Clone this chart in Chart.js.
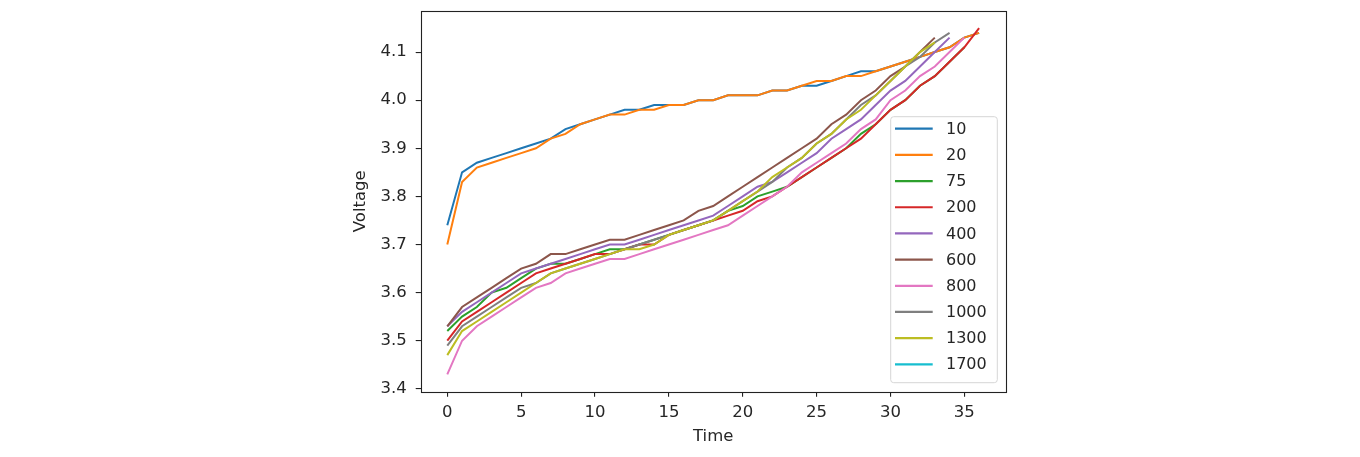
<!DOCTYPE html>
<html>
<head>
<meta charset="utf-8">
<script src="https://cdn.jsdelivr.net/npm/chart.js@4.4.0/dist/chart.umd.min.js"></script>
<style>
  html, body { margin: 0; padding: 0; background: #fff; }
  #wrap { width: 1360px; height: 457px; }
</style>
</head>
<body>
<div id="wrap"><canvas id="c" width="1360" height="457"></canvas></div>
<script>
// ---- data ----
const seriesNames = ["10", "20", "75", "200", "400", "600", "800", "1000", "1300", "1700"];
const seriesColors = ["#1f77b4", "#ff7f0e", "#2ca02c", "#d62728", "#9467bd", "#8c564b", "#e377c2", "#7f7f7f", "#bcbd22", "#17becf"];

const v10 = [3.74,3.85,3.87,3.88,3.89,3.90,3.91,3.92,3.94,3.95,3.96,3.97,3.98,3.98,3.99,3.99,3.99,4.00,4.00,4.01,4.01,4.01,4.02,4.02,4.03,4.03,4.04,4.05,4.06,4.06,4.07,4.08,4.09,4.10,4.11,4.13,4.14];
const v20 = [3.70,3.83,3.86,3.87,3.88,3.89,3.90,3.92,3.93,3.95,3.96,3.97,3.97,3.98,3.98,3.99,3.99,4.00,4.00,4.01,4.01,4.01,4.02,4.02,4.03,4.04,4.04,4.05,4.05,4.06,4.07,4.08,4.09,4.10,4.11,4.13,4.14];
const v75 = [3.52,3.55,3.57,3.60,3.61,3.63,3.65,3.66,3.66,3.67,3.68,3.69,3.69,3.70,3.71,3.72,3.73,3.74,3.75,3.77,3.78,3.80,3.81,3.82,3.84,3.86,3.88,3.90,3.93,3.95,3.98,4.00,4.03,4.05,4.08,4.11];
const v200 = [3.50,3.54,3.56,3.58,3.60,3.62,3.64,3.65,3.66,3.67,3.68,3.68,3.69,3.70,3.70,3.72,3.73,3.74,3.75,3.76,3.77,3.79,3.80,3.82,3.84,3.86,3.88,3.90,3.92,3.95,3.98,4.00,4.03,4.05,4.08,4.11,4.15];
const v400 = [3.53,3.56,3.58,3.60,3.62,3.64,3.65,3.66,3.67,3.68,3.69,3.70,3.70,3.71,3.72,3.73,3.74,3.75,3.76,3.78,3.80,3.82,3.83,3.85,3.87,3.89,3.92,3.94,3.96,3.99,4.02,4.04,4.07,4.10,4.13];
const v600 = [3.53,3.57,3.59,3.61,3.63,3.65,3.66,3.68,3.68,3.69,3.70,3.71,3.71,3.72,3.73,3.74,3.75,3.77,3.78,3.80,3.82,3.84,3.86,3.88,3.90,3.92,3.95,3.97,4.00,4.02,4.05,4.07,4.10,4.13];
const v800 = [3.43,3.50,3.53,3.55,3.57,3.59,3.61,3.62,3.64,3.65,3.66,3.67,3.67,3.68,3.69,3.70,3.71,3.72,3.73,3.74,3.76,3.78,3.80,3.82,3.85,3.87,3.89,3.91,3.94,3.96,4.00,4.02,4.05,4.07,4.10,4.13];
const v1000 = [3.49,3.53,3.55,3.57,3.59,3.61,3.62,3.64,3.65,3.66,3.67,3.68,3.69,3.70,3.71,3.72,3.73,3.74,3.75,3.77,3.79,3.81,3.83,3.86,3.88,3.91,3.93,3.96,3.99,4.01,4.04,4.07,4.09,4.12,4.14];
const v1300 = [3.47,3.52,3.54,3.56,3.58,3.60,3.62,3.64,3.65,3.66,3.67,3.68,3.69,3.69,3.70,3.72,3.73,3.74,3.75,3.77,3.79,3.81,3.84,3.86,3.88,3.91,3.93,3.96,3.98,4.01,4.04,4.07,4.10,4.12];
const v1700 = [];

const xTicks = [0, 5, 10, 15, 20, 25, 30, 35];
const yTicks = [3.4, 3.5, 3.6, 3.7, 3.8, 3.9, 4.0, 4.1];
const xTitle = "Time";
const yTitle = "Voltage";

const allSeries = [v10, v20, v75, v200, v400, v600, v800, v1000, v1300, v1700];

// ---- chart ----
const FONT = "'DejaVu Sans', sans-serif";
const TXT = "#262626";
const N = allSeries.length;

const datasets = allSeries.map((vals, i) => ({
  label: seriesNames[i],
  data: vals.map((v, t) => ({ x: t, y: v })),
  borderColor: seriesColors[i],
  backgroundColor: seriesColors[i],
  borderWidth: 2,
  pointRadius: 0,
  pointHoverRadius: 0,
  tension: 0,
  fill: false,
  order: N - i
}));

const frameLegend = {
  id: 'frameLegend',
  afterDatasetsDraw(chart) {
    const { ctx, chartArea: a } = chart;
    ctx.save();
    ctx.strokeStyle = "#222";
    ctx.lineWidth = 1.1;
    ctx.strokeRect(Math.round(a.left) + 0.5, Math.round(a.top) + 0.5,
                   Math.round(a.right - a.left), Math.round(a.bottom - a.top));
    // legend
    const bx = 890.7, by = 116.7, bw = 106.6, bh = 266;
    ctx.beginPath();
    if (ctx.roundRect) ctx.roundRect(bx, by, bw, bh, 3); else ctx.rect(bx, by, bw, bh);
    ctx.fillStyle = "rgba(255,255,255,0.8)";
    ctx.fill();
    ctx.strokeStyle = "#d6d6d6";
    ctx.lineWidth = 1;
    ctx.stroke();
    ctx.font = "16px " + FONT;
    ctx.textBaseline = "middle";
    ctx.textAlign = "left";
    seriesNames.forEach((name, i) => {
      const y = 128.7 + i * 26.18;
      ctx.strokeStyle = seriesColors[i];
      ctx.lineWidth = 2.2;
      ctx.beginPath();
      ctx.moveTo(895, y);
      ctx.lineTo(932.7, y);
      ctx.stroke();
      ctx.fillStyle = TXT;
      ctx.fillText(name, 946, y + 1);
    });
    ctx.restore();
  }
};

new Chart(document.getElementById('c'), {
  type: 'line',
  data: { datasets },
  plugins: [frameLegend],
  options: {
    responsive: false,
    animation: false,
    events: [],
    layout: { padding: { left: 340, right: 354.3, top: 10.7, bottom: 0 } },
    plugins: { legend: { display: false }, tooltip: { enabled: false } },
    scales: {
      x: {
        type: 'linear',
        min: -1.8,
        max: 37.8,
        afterBuildTicks(s) { s.ticks = xTicks.map(v => ({ value: v })); },
        afterFit(s) { s.height = 65.3; s.paddingLeft = 0; s.paddingRight = 0; s.paddingTop = 0; s.paddingBottom = 0; },
        border: { display: false },
        grid: { drawOnChartArea: false, drawTicks: true, tickLength: 5, color: "#222", lineWidth: 1.1 },
        ticks: { font: { family: FONT, size: 16.5 }, color: TXT, padding: 6, maxRotation: 0, autoSkip: false },
        title: { display: true, text: xTitle, font: { family: FONT, size: 16.5 }, color: TXT, padding: { top: 0, bottom: 10.4 } }
      },
      y: {
        type: 'linear',
        min: 3.394,
        max: 4.186,
        afterBuildTicks(s) { s.ticks = yTicks.map(v => ({ value: v })); },
        afterFit(s) { s.width = 80.7; s.paddingTop = 0; s.paddingBottom = 0; s.paddingLeft = 0; s.paddingRight = 0; },
        border: { display: false },
        grid: { drawOnChartArea: false, drawTicks: true, tickLength: 5, color: "#222", lineWidth: 1.1 },
        ticks: { font: { family: FONT, size: 16.5 }, color: TXT, padding: 9, autoSkip: false,
                 callback: v => Number(v).toFixed(1) },
        title: { display: true, text: yTitle, font: { family: FONT, size: 16.5 }, color: TXT, padding: { top: 10.4, bottom: 0 } }
      }
    }
  }
});
</script>
</body>
</html>
